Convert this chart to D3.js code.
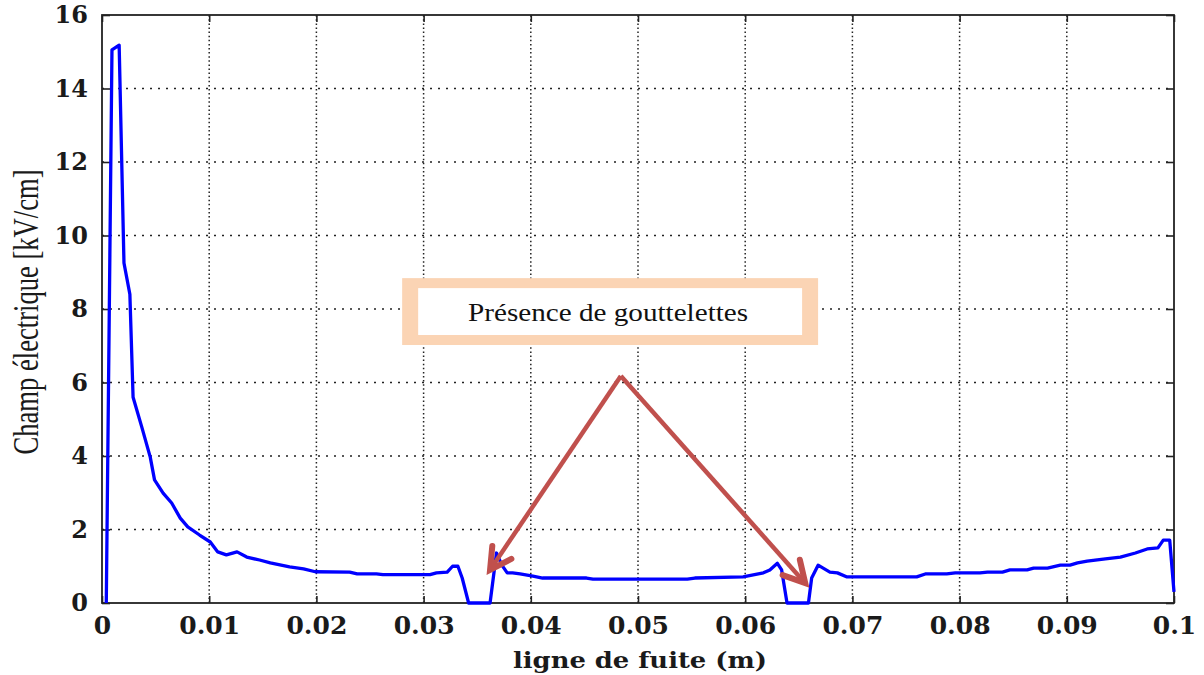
<!DOCTYPE html>
<html>
<head>
  <meta charset="utf-8">
  <script src="https://d3js.org/d3.v7.min.js"></script>
  <style>
    body { margin: 0; background: #fff; }
    svg { display: block; }
  </style>
</head>
<body>
<script>
  // values
  var fuite = [0.0004, 0.00093, 0.0016, 0.00205, 0.0026, 0.0029, 0.0037, 0.0045, 0.0049, 0.0057,
               0.0065, 0.0073, 0.0080, 0.0091, 0.0101, 0.0108, 0.0116, 0.0126, 0.0135, 0.0147,
               0.0157, 0.0175, 0.0188, 0.0199, 0.0231, 0.0238, 0.0256, 0.0262, 0.0306, 0.0312,
               0.0322, 0.0327, 0.0332, 0.0336, 0.0342, 0.0362, 0.0368, 0.0373, 0.0378, 0.0383,
               0.0390, 0.0402, 0.0411, 0.0452, 0.0458, 0.0546, 0.0553, 0.0598, 0.0617, 0.0623,
               0.0630, 0.0634, 0.0639, 0.0659, 0.0662, 0.0668, 0.0679, 0.0686, 0.0695, 0.0760,
               0.0768, 0.0788, 0.0796, 0.0819, 0.0826, 0.0840, 0.0847, 0.0863, 0.0869, 0.0882,
               0.0894, 0.0903, 0.0910, 0.0919, 0.0936, 0.0950, 0.0964, 0.0975, 0.0985, 0.0990,
               0.0996, 0.1];
  var champ = [0, 15.05, 15.18, 9.25, 8.4, 5.6, 4.8, 3.97, 3.35, 2.99,
               2.72, 2.31, 2.07, 1.85, 1.66, 1.39, 1.31, 1.39, 1.25, 1.17,
               1.09, 0.98, 0.93, 0.85, 0.84, 0.79, 0.79, 0.77, 0.77, 0.82,
               0.84, 1.0, 1.0, 0.68, 0, 0, 1.36, 1.03, 0.82, 0.82,
               0.79, 0.73, 0.68, 0.68, 0.65, 0.65, 0.68, 0.71, 0.82, 0.9,
               1.08, 0.9, 0, 0, 0.68, 1.03, 0.84, 0.82, 0.71, 0.71,
               0.79, 0.79, 0.82, 0.82, 0.84, 0.84, 0.9, 0.9, 0.95, 0.95,
               1.03, 1.03, 1.09, 1.14, 1.2, 1.25, 1.36, 1.47, 1.5, 1.71,
               1.71, 0.3];

  var xTicks = [0, 0.01, 0.02, 0.03, 0.04, 0.05, 0.06, 0.07, 0.08, 0.09, 0.1];
  var yTicks = [0, 2, 4, 6, 8, 10, 12, 14, 16];

  var xLabel = "ligne de fuite (m)";
  var yLabel = "Champ électrique [kV/cm]";
  var boxText = "Présence de gouttelettes";

  // annotation, in data units: box corners, arrow apex and the two tips
  var boxX = [0.0280, 0.0668];
  var boxY = [7.02, 8.84];
  var arrowFrom = [0.0484, 6.18];
  var arrowTips = [[0.0362, 0.9], [0.0656, 0.54]];

  var width = 1204, height = 675;
  var margin = {left: 102, right: 30, top: 15, bottom: 72};

  var svg = d3.select("body").append("svg")
      .attr("width", width)
      .attr("height", height);

  var x = d3.scaleLinear().domain([0, 0.1]).range([margin.left, width - margin.right]);
  var y = d3.scaleLinear().domain([0, 16]).range([height - margin.bottom, margin.top]);

  var x0 = x.range()[0], x1 = x.range()[1];
  var y0 = y.range()[0], y1 = y.range()[1];

  /* dotted grid */
  svg.append("g").selectAll("line")
    .data(xTicks.slice(1, -1))
    .enter().append("line")
      .attr("x1", d => x(d)).attr("x2", d => x(d))
      .attr("y1", y0).attr("y2", y1)
      .attr("stroke", "#222")
      .attr("stroke-width", 1.5)
      .attr("stroke-dasharray", "1.5,2.6");

  svg.append("g").selectAll("line")
    .data(yTicks.slice(1, -1))
    .enter().append("line")
      .attr("x1", x0).attr("x2", x1)
      .attr("y1", d => y(d)).attr("y2", d => y(d))
      .attr("stroke", "#222")
      .attr("stroke-width", 1.5)
      .attr("stroke-dasharray", "2,6");

  /* axes, ticks inside on all four sides */
  var fmt = d => d === 0 ? "0" : String(+d.toFixed(2));

  var gx = svg.append("g")
      .attr("transform", "translate(0," + y0 + ")")
      .call(d3.axisBottom(x).tickValues(xTicks).tickFormat(fmt).tickSizeInner(-7).tickSizeOuter(0).tickPadding(13));
  var gy = svg.append("g")
      .attr("transform", "translate(" + x0 + ",0)")
      .call(d3.axisLeft(y).tickValues(yTicks).tickSizeInner(-8).tickSizeOuter(0).tickPadding(14));
  var gt = svg.append("g")
      .attr("transform", "translate(0," + y1 + ")")
      .call(d3.axisTop(x).tickValues(xTicks).tickFormat("").tickSizeInner(-7).tickSizeOuter(0));
  var gr = svg.append("g")
      .attr("transform", "translate(" + x1 + ",0)")
      .call(d3.axisRight(y).tickValues(yTicks).tickFormat("").tickSizeInner(-8).tickSizeOuter(0));

  [gx, gy, gt, gr].forEach(function (g) {
    g.select(".domain").remove();
    g.selectAll("line").attr("stroke", "#222").attr("stroke-width", 1.6);
  });

  gx.selectAll("text")
      .style("font-family", "'DejaVu Serif', serif")
      .style("font-weight", "bold")
      .style("font-size", "25px")
      .attr("fill", "#1a1a1a");
  gy.selectAll("text")
      .style("font-family", "'DejaVu Serif', serif")
      .style("font-weight", "bold")
      .style("font-size", "24px")
      .attr("fill", "#1a1a1a");

  svg.append("rect")
      .attr("x", x0).attr("y", y1)
      .attr("width", x1 - x0).attr("height", y0 - y1)
      .attr("fill", "none")
      .attr("stroke", "#222")
      .attr("stroke-width", 1.8);

  /* the curve */
  var line = d3.line()
      .x(d => x(d[0]))
      .y(d => y(d[1]));

  svg.append("path")
      .datum(d3.zip(fuite, champ))
      .attr("d", line)
      .attr("fill", "none")
      .attr("stroke", "#0000ff")
      .attr("stroke-width", 3.3)
      .attr("stroke-linejoin", "round");

  /* axis titles */
  svg.append("text")
      .attr("x", (x0 + x1) / 2 + 2)
      .attr("y", 668)
      .attr("text-anchor", "middle")
      .attr("textLength", 254)
      .attr("lengthAdjust", "spacingAndGlyphs")
      .style("font-family", "'DejaVu Serif', serif")
      .style("font-weight", "bold")
      .style("font-size", "23px")
      .attr("fill", "#1a1a1a")
      .text(xLabel);

  svg.append("text")
      .attr("transform", "translate(38," + 312 + ") rotate(-90)")
      .attr("text-anchor", "middle")
      .attr("textLength", 285)
      .attr("lengthAdjust", "spacingAndGlyphs")
      .style("font-family", "'Liberation Serif', 'Times New Roman', serif")
      .style("font-size", "35px")
      .attr("fill", "#1a1a1a")
      .text(yLabel);

  /* annotation box */
  var bx = x(boxX[0]), bw = x(boxX[1]) - x(boxX[0]);
  var by = y(boxY[1]), bh = y(boxY[0]) - y(boxY[1]);

  svg.append("rect")
      .attr("x", bx).attr("y", by)
      .attr("width", bw).attr("height", bh)
      .attr("fill", "#fbd4b4");
  svg.append("rect")
      .attr("x", bx + 16).attr("y", by + 10)
      .attr("width", bw - 32).attr("height", bh - 20)
      .attr("fill", "#fff");
  svg.append("text")
      .attr("x", bx + bw / 2 - 2)
      .attr("y", by + bh / 2 + 9)
      .attr("text-anchor", "middle")
      .attr("textLength", 280)
      .attr("lengthAdjust", "spacingAndGlyphs")
      .style("font-family", "'Liberation Serif', 'Times New Roman', serif")
      .style("font-size", "26px")
      .attr("fill", "#111")
      .text(boxText);

  /* arrows */
  var arrowColor = "#c0504d";
  var ax = x(arrowFrom[0]), ay = y(arrowFrom[1]);
  arrowTips.forEach(function (t) {
    var tx = x(t[0]), ty = y(t[1]);
    var ang = Math.atan2(ty - ay, tx - ax);
    var len = 24, spread = 0.5;
    var p1 = [tx - len * Math.cos(ang - spread), ty - len * Math.sin(ang - spread)];
    var p2 = [tx - len * Math.cos(ang + spread), ty - len * Math.sin(ang + spread)];
    svg.append("line")
        .attr("x1", ax).attr("y1", ay)
        .attr("x2", tx - 3 * Math.cos(ang)).attr("y2", ty - 3 * Math.sin(ang))
        .attr("stroke", arrowColor)
        .attr("stroke-width", 4.5);
    svg.append("path")
        .attr("d", "M" + p1 + "L" + [tx, ty] + "L" + p2)
        .attr("fill", "none")
        .attr("stroke", arrowColor)
        .attr("stroke-width", 6)
        .attr("stroke-linejoin", "miter")
        .attr("stroke-linecap", "round");
  });
</script>
</body>
</html>
